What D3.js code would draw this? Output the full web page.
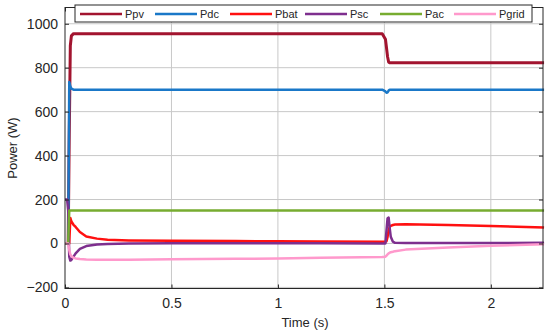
<!DOCTYPE html>
<html>
<head>
<meta charset="utf-8">
<script src="https://cdn.jsdelivr.net/npm/d3@7"></script>
<style>
  body { margin: 0; background: #fff; }
  svg { font-family: "Liberation Sans", Arial, sans-serif; }
</style>
</head>
<body>
<svg id="chart" width="550" height="335"></svg>
<script>
// time samples (s)
const time = [0, 0.005, 0.01, 0.015, 0.02, 0.025, 0.03, 0.04, 0.05, 0.07, 0.1, 0.15, 0.2, 0.3, 0.5, 0.8, 1.0, 1.2, 1.49,
              1.505, 1.51, 1.515, 1.52, 1.525, 1.53, 1.54, 1.55, 1.6, 1.8, 2.0, 2.25];

const ppv   = [0, 0, 0, 0, 500, 900, 945, 955, 955, 955, 955, 955, 955, 955, 955, 955, 955, 955, 955,
               930, 890, 850, 826, 822, 822, 822, 822, 822, 822, 822, 822];
const pdc   = [0, 0, 0, 0, 735, 715, 705, 700, 700, 700, 700, 700, 700, 700, 700, 700, 700, 700, 700,
               692, 686, 688, 696, 700, 700, 700, 700, 700, 700, 700, 700];
const pbat  = [0, 0, 0, 0, 0, 116, 100, 85, 75, 52, 32, 22, 17, 14, 12, 11, 10, 9, 8,
               8, 10, 30, 60, 75, 80, 84, 86, 88, 84, 79, 73];
const psc   = [200, 200, 200, 150, -60, -78, -75, -60, -45, -25, -12, -5, -2, 0, 1, 1, 1, 1, 0,
               0, 60, 115, 118, 70, 30, 8, 3, 2, 2, 2, 3];
const pac   = [0, 0, 0, 0, 150, 150, 150, 150, 150, 150, 150, 150, 150, 150, 150, 150, 150, 150, 150,
               150, 150, 150, 150, 150, 150, 150, 150, 150, 150, 150, 150];
const pgrid = [0, 0, 0, 0, -30, -50, -58, -65, -68, -71, -73, -74, -74, -74, -72, -70, -68, -65, -62,
               -60, -55, -50, -45, -42, -40, -38, -35, -28, -18, -10, -4];

const names  = ["Ppv", "Pdc", "Pbat", "Psc", "Pac", "Pgrid"];
const colors = ["#a2142f", "#1a78c8", "#ff1010", "#7e2f8e", "#77ac30", "#ff99cc"];
const values = [ppv, pdc, pbat, psc, pac, pgrid];

const xTicks = [0, 0.5, 1, 1.5, 2];
const yTicks = [-200, 0, 200, 400, 600, 800, 1000];

const svg = d3.select("#chart");
const pLeft = 65, pRight = 543, pTop = 7.5, pBottom = 288.5;

const x = d3.scaleLinear().domain([0, 2.245]).range([pLeft, pRight]);
const y = d3.scaleLinear().domain([-205, 1074]).range([pBottom, pTop]);

// grid
svg.append("g").selectAll("line").data(xTicks.slice(1)).join("line")
    .attr("x1", d => x(d)).attr("x2", d => x(d))
    .attr("y1", pTop).attr("y2", pBottom)
    .attr("stroke", "#c8c8c8").attr("stroke-width", 1);
svg.append("g").selectAll("line").data(yTicks).join("line")
    .attr("x1", pLeft).attr("x2", pRight)
    .attr("y1", d => y(d)).attr("y2", d => y(d))
    .attr("stroke", "#c8c8c8").attr("stroke-width", 1);

// series
const line = d3.line().x((d, i) => x(time[i])).y(d => y(d));
values.forEach((v, k) => {
    svg.append("path")
        .datum(v)
        .attr("fill", "none")
        .attr("stroke", colors[k])
        .attr("stroke-width", k == 0 ? 3 : 2.5)
        .attr("stroke-linejoin", "round")
        .attr("d", line);
});

// axes box
svg.append("rect")
    .attr("x", pLeft).attr("y", pTop)
    .attr("width", pRight - pLeft).attr("height", pBottom - pTop)
    .attr("fill", "none").attr("stroke", "#262626").attr("stroke-width", 1);

const xAxis = d3.axisBottom(x).tickValues(xTicks).tickSize(-4).tickPadding(10).tickFormat(d3.format("~g"));
const yAxis = d3.axisLeft(y).tickValues(yTicks).tickSize(-4).tickPadding(7).tickFormat(d3.format("d"));

svg.append("g").attr("transform", `translate(0,${pBottom})`).call(xAxis)
    .call(g => g.select(".domain").remove());
svg.append("g").attr("transform", `translate(${pLeft},0)`).call(yAxis)
    .call(g => g.select(".domain").remove());
// ticks on the top and right sides
svg.append("g").attr("transform", `translate(0,${pTop})`)
    .call(d3.axisTop(x).tickValues(xTicks).tickSize(-4).tickFormat(""))
    .call(g => g.select(".domain").remove());
svg.append("g").attr("transform", `translate(${pRight},0)`)
    .call(d3.axisRight(y).tickValues(yTicks).tickSize(-4).tickFormat(""))
    .call(g => g.select(".domain").remove());

svg.selectAll(".tick text").attr("font-size", 14).attr("fill", "#262626")
    .attr("font-family", "Liberation Sans, Arial, sans-serif");
svg.selectAll(".tick line").attr("stroke", "#262626");

// axis labels
svg.append("text")
    .attr("x", 305).attr("y", 327)
    .attr("text-anchor", "middle").attr("font-size", 13).attr("fill", "#262626")
    .text("Time (s)");
svg.append("text")
    .attr("transform", "translate(17,148) rotate(-90)")
    .attr("text-anchor", "middle").attr("font-size", 13).attr("fill", "#262626")
    .text("Power (W)");

// legend
const legX = [80, 155, 230, 305, 380, 454];
const legend = svg.append("g");
legend.append("rect")
    .attr("x", 75).attr("y", 5).attr("width", 457).attr("height", 17)
    .attr("fill", "#fff").attr("stroke", "#262626").attr("stroke-width", 1);
const item = legend.selectAll("g.item").data(names).join("g").attr("class", "item")
    .attr("transform", (d, i) => `translate(${legX[i]},14)`);
item.append("line")
    .attr("x1", 0).attr("x2", 42).attr("y1", 0).attr("y2", 0)
    .attr("stroke", (d, i) => colors[i]).attr("stroke-width", 2.5);
item.append("text")
    .attr("x", 45).attr("y", 4)
    .attr("font-size", 11).attr("fill", "#262626")
    .text(d => d);
</script>
</body>
</html>
